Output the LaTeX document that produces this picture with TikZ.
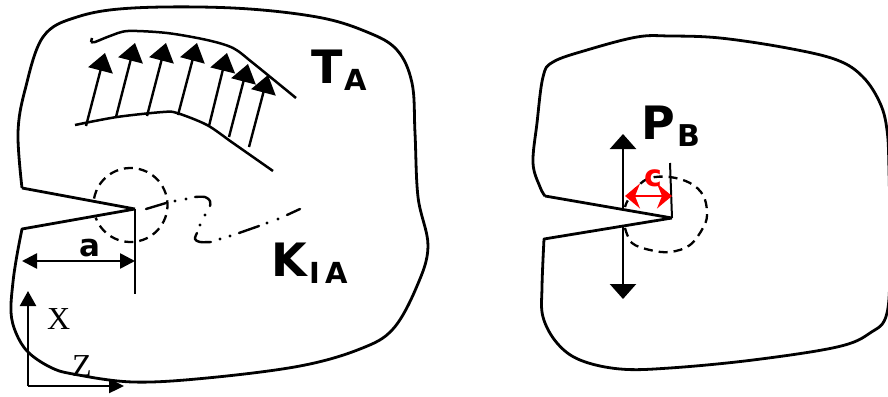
\documentclass[tikz,border=0pt]{standalone}
\usepackage{fontspec}
\setmainfont{DejaVu Sans}
\newfontfamily\axisfont{Liberation Serif}
\usetikzlibrary{arrows.meta}
\definecolor{redmark}{RGB}{255,0,0}
\tikzset{
  x=1pt,y=-1pt,
  outline/.style={line width=2.8pt,line join=round,black},
  thinline/.style={line width=2.5pt,black},
  load/.style={line width=2.4pt,black,-{Triangle[length=18pt,width=25pt]}},
  dim/.style={line width=2.6pt,black,{Triangle[length=15pt,width=15pt]}-{Triangle[length=15pt,width=15pt]}},
  axis/.style={line width=2.4pt,black},
  dashcircle/.style={line width=2.3pt,black,dash pattern=on 9pt off 6pt},
  crackline/.style={line width=2.4pt,black,line cap=round},
  bold/.style={inner sep=0pt,anchor=base west,font=\bfseries},
}
\begin{document}
\begin{tikzpicture}
\useasboundingbox (0,0) rectangle (888,396);
% named points
\coordinate (tipA) at (135,209);
\coordinate (tipB) at (672,218);
\coordinate (mouthAu) at (22,188);
\coordinate (mouthAl) at (22,229);
\coordinate (mouthBu) at (545,196);
\coordinate (mouthBl) at (544,239);
% left body
\draw[outline] (tipA) -- (mouthAu)
 plot[smooth,tension=.6] coordinates {(22,188) (18,133) (25,90) (43,37) (77,17) (133,8) (233,8) (317,17) (367,32) (397,50) (412,83) (415,133) (418,197) (428,246) (417,286) (393,329) (360,349) (300,366) (207,378) (133,382) (73,374) (50,367) (28,352) (16,333) (11,312) (13,282) (17,255) (22,229)}
 -- (tipA);
% right body
\draw[outline] (tipB) -- (mouthBu)
 plot[smooth,tension=.6] coordinates {(545,196) (540,187) (533,163) (537,123) (543,77) (553,62) (587,50) (637,37) (670,36) (720,38) (787,48) (837,60) (863,77) (880,103) (887,130) (889,170) (890,250) (887,313) (870,333) (837,347) (753,360) (670,368) (620,369) (580,360) (557,343) (543,317) (542,287) (544,239)}
 -- (tipB);
% bands
\draw[thinline,line join=round] (92,38) -- (91,42);
\draw[thinline,line join=round] plot[smooth,tension=.5] coordinates {(91,42) (95,42) (110,36) (128,31) (167,33) (207,40) (233,48) (253,63) (296,98)};
\draw[thinline] plot[smooth,tension=.5] coordinates {(75,125) (117,117) (163,112) (177,113) (207,125) (233,143) (273,171)};
% load arrows
\foreach \n/\xa/\ya/\xb/\yb in {a/86/126/105/53,b/116/117/135/43,c/147/116/166/43,d/178/115/197/43,e/209/126/227/53,f/229/137/248/64,g/249/147/268/75}{
  \coordinate (s\n) at (\xa,\ya);
  \coordinate (e\n) at (\xb,\yb);
  \draw[load] (s\n) -- (e\n);
}
% left circle
\draw[dashcircle] plot[domain=-170:160,samples=60,smooth] ({130.5+37*cos(\x)},{205+37*sin(\x)});
% crack path
\draw[crackline] (146,209) -- (166,203);
\draw[crackline] plot[smooth,tension=.6] coordinates {(195,197) (205,197) (210,201) (210,206)};
\draw[crackline] plot[smooth,tension=.6] coordinates {(197,233) (195,239) (200,242) (211,242)};
\draw[crackline] (239,233) -- (259,226);
\draw[crackline] (287,215) -- (300,209);
\foreach \n/\xa/\ya in {p/175/201,q/186/199,r/205/215,s/200/225,t/220/239,u/230/236,v/267/223,w/278/219}{
  \fill[black] (\xa,\ya) circle[radius=1.6pt];
}
% dimension a
\coordinate (aL) at (22,261);
\coordinate (aR) at (135,261);
\coordinate (aBot) at (135,294);
\draw[thinline] (tipA) -- (aBot);
\draw[dim] (aL) -- (aR);
% axes
\coordinate (org) at (28,386);
\coordinate (axX) at (28,291);
\coordinate (axZ) at (124,386);
\draw[axis,-{Triangle[length=15pt,width=16pt]}] (org) -- (axX);
\draw[axis,-{Triangle[length=15pt,width=14pt]}] (org) -- (axZ);
% right: loads
\coordinate (pU0) at (623,208);
\coordinate (pU1) at (623,134);
\coordinate (pL0) at (623,226);
\coordinate (pL1) at (623,299);
\draw[load,-{Triangle[length=15pt,width=26pt]}] (pU0) -- (pU1);
\draw[load,-{Triangle[length=15pt,width=26pt]}] (pL0) -- (pL1);
% right circle
\draw[dashcircle] plot[smooth,tension=.6] coordinates {(625,228) (632,243) (650,250) (670,252) (690,245) (704,226) (707,212) (703,195) (690,183) (670,177) (650,178) (638,186) (628,200) (625,207)};
\coordinate (cTop) at (670,163);
\draw[line width=2pt,black] (cTop) -- (tipB);
% dimension c
\coordinate (cL) at (625,196);
\coordinate (cR) at (672,196);
\draw[line width=1.8pt,redmark,{Stealth[length=15pt,width=25pt,inset=5pt]}-{Stealth[length=15pt,width=25pt,inset=5pt]}] (cL) -- (cR);
% labels
\node[bold,font=\fontsize{46}{46}\selectfont\bfseries] (tT) at (311,83) {T};
\node[bold,font=\fontsize{29}{29}\selectfont\bfseries] (tTs) at (344,90) {A};
\node[bold,font=\fontsize{46}{46}\selectfont\bfseries] (tK) at (271,276) {K};
\node[bold,font=\fontsize{29}{29}\selectfont\bfseries] (tKs) at (309,283) {I};
\node[bold,font=\fontsize{29}{29}\selectfont\bfseries] (tKt) at (325,283) {A};
\node[bold,font=\fontsize{46}{46}\selectfont\bfseries] (tP) at (641,139) {P};
\node[bold,font=\fontsize{30}{30}\selectfont\bfseries] (tPs) at (677,146) {B};
\node[bold,font=\fontsize{31}{31}\selectfont\bfseries] (ta) at (79,256) {a};
\node[bold,text=redmark,font=\fontsize{30}{30}\selectfont\bfseries] (tc) at (644,186) {c};
\node[inner sep=0pt,anchor=base west,font=\fontsize{32}{32}\selectfont\axisfont] (tX) at (47,329) {X};
\node[inner sep=0pt,anchor=base west,font=\fontsize{32}{32}\selectfont\axisfont] (tZ) at (72,376) {Z};
\end{tikzpicture}
\end{document}
